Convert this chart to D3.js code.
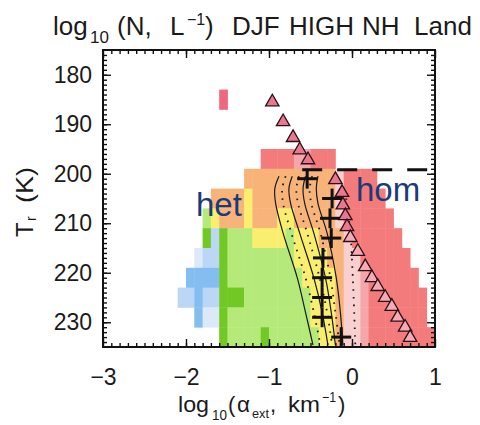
<!DOCTYPE html>
<html><head><meta charset="utf-8">
<script src="https://cdn.jsdelivr.net/npm/d3@7"></script>
<style>
body{margin:0;background:#fff;}
svg{display:block;}
text{font-family:"Liberation Sans",Arial,sans-serif;fill:#1a1a1a;}
</style></head><body>
<svg id="c" width="480" height="425"></svg>
<script>
// ---------- data ----------
const xDomain = [-3, 1];
const yDomain = [175, 235];
const xTicks = [-3, -2, -1, 0, 1];
const yTicks = [180, 190, 200, 210, 220, 230];

// heat-map bins: columns of 0.1 in log10(alpha) starting at -2.2, rows of 4 K
const binXStart = -2.2, binXStep = 0.1;
const rowT = [183, 187, 191, 195, 199, 203, 207, 211, 215, 219, 223, 227, 231];
const rowStep = 4;
// per row: [first column, last column, class]
const rowRuns = [
  [[6,6,"R"]],
  [],
  [],
  [[11,14,"r"],[15,16,"P"],[17,19,"r"]],
  [[9,19,"o"],[20,20,"p"],[21,24,"r"]],
  [[5,8,"o"],[9,9,"y"],[10,19,"o"],[20,20,"p"],[21,25,"r"]],
  [[4,4,"g"],[5,5,"y"],[6,8,"o"],[9,9,"y"],[10,12,"o"],[13,14,"y"],[15,19,"o"],[20,20,"p"],[21,26,"r"]],
  [[4,4,"G"],[5,5,"b"],[6,6,"G"],[7,9,"g"],[10,13,"y"],[14,14,"g"],[15,17,"y"],[18,20,"o"],[21,21,"p"],[22,27,"r"]],
  [[3,3,"w"],[4,5,"b"],[6,6,"G"],[7,14,"g"],[15,18,"y"],[19,20,"o"],[21,22,"p"],[23,28,"r"]],
  [[2,5,"B"],[6,6,"G"],[7,15,"g"],[16,19,"y"],[20,20,"o"],[21,22,"p"],[23,23,"P"],[24,29,"r"]],
  [[1,2,"b"],[3,3,"B"],[4,5,"b"],[6,8,"G"],[9,16,"g"],[17,19,"y"],[20,20,"o"],[21,22,"p"],[23,23,"P"],[24,30,"r"]],
  [[3,3,"B"],[4,5,"w"],[6,6,"G"],[7,16,"g"],[17,19,"y"],[20,20,"o"],[21,22,"p"],[23,23,"P"],[24,30,"r"]],
  [[6,6,"G"],[7,10,"g"],[11,11,"G"],[12,17,"g"],[18,19,"y"],[20,20,"o"],[21,22,"p"],[23,23,"P"],[24,31,"r"]]
];
const palette = {
  R: "#f0687e", r: "#f37b7b", P: "#f5a6aa", p: "#f9cfcf",
  o: "#f7b378", y: "#f9ee6e", g: "#b5ea7a", G: "#72c925",
  B: "#84bdf0", b: "#bcd7f5", w: "#dce9f8"
};

// contour lines: [T, log10 alpha]
const contourSolid = [
  [[200.5,-0.88],[203,-0.93],[206,-0.92],[212,-0.83],[221,-0.66],[228,-0.56],[234.6,-0.47]],
  [[200.5,-0.72],[203,-0.76],[206,-0.74],[212,-0.63],[221,-0.46],[228,-0.36],[234.6,-0.29]],
  [[200.5,-0.56],[203,-0.59],[206,-0.57],[212,-0.46],[221,-0.32],[228,-0.25],[234.6,-0.20]],
  [[200.5,-0.41],[203,-0.43],[206,-0.41],[212,-0.30],[221,-0.19],[228,-0.14],[234.6,-0.11]]
];
const contourDotted = [
  [[200.5,-0.80],[203,-0.84],[206,-0.83],[212,-0.73],[221,-0.56],[228,-0.46],[234.6,-0.38]],
  [[200.5,-0.64],[203,-0.67],[206,-0.65],[212,-0.54],[221,-0.39],[228,-0.30],[234.6,-0.24]],
  [[200.5,-0.48],[203,-0.51],[206,-0.49],[212,-0.38],[221,-0.26],[228,-0.20],[234.6,-0.15]],
  [[205,-0.07],[212,-0.02],[221,0.01],[234.6,0.04]]
];

// median markers (+)
const plusT = [201, 205, 209, 213, 217, 221, 225, 229, 233];
const plusX = [-0.54, -0.24, -0.265, -0.25, -0.35, -0.36, -0.36, -0.36, -0.13];

// homogeneous-nucleation triangles
const triUpT = [185.5, 189.5, 192.7, 195.2, 197.2];
const triUpX = [-0.96, -0.83, -0.71, -0.63, -0.53];
const triLoT = [201.2, 203.8, 206.3, 208.5, 210.7, 212.9, 215.7, 218.8, 221, 222.8, 225, 226.8, 229, 231, 233.1];
const triLoX = [-0.2, -0.12, -0.11, -0.08, -0.06, -0.02, 0.07, 0.16, 0.24, 0.31, 0.40, 0.48, 0.55, 0.64, 0.70];

// dashed reference line
const dashT = 199.2;
const dashX = [-0.6, 1];

// ---------- drawing ----------
const svg = d3.select("#c");
const L = 103, R = 435, T = 50, B = 347;
const x = d3.scaleLinear().domain(xDomain).range([L, R]);
const y = d3.scaleLinear().domain(yDomain).range([T, B]);

const cells = [];
rowRuns.forEach((runs, ri) => {
  runs.forEach(([c0, c1, ch]) => {
    for (let ci = c0; ci <= c1; ci++) cells.push({ri, ci, ch});
  });
});
svg.append("g").selectAll("rect").data(cells).join("rect")
  .attr("x", d => x(binXStart + d.ci * binXStep))
  .attr("width", d => x(binXStart + (d.ci + 1) * binXStep) - x(binXStart + d.ci * binXStep) + 0.4)
  .attr("y", d => y(rowT[d.ri]))
  .attr("height", d => y(rowT[d.ri] + rowStep) - y(rowT[d.ri]) + 0.4)
  .attr("fill", d => palette[d.ch]);

const line = d3.line().curve(d3.curveCatmullRom.alpha(0.5)).x(d => x(d[1])).y(d => y(d[0]));
svg.append("g").selectAll("path").data(contourSolid).join("path")
  .attr("d", line).attr("fill", "none").attr("stroke", "#1a1a1a").attr("stroke-width", 1.2);
svg.append("g").selectAll("path").data(contourDotted).join("path")
  .attr("d", line).attr("fill", "none").attr("stroke", "#1a1a1a").attr("stroke-width", 1.8)
  .attr("stroke-dasharray", "1.6,6").attr("stroke-linecap", "butt");

// dashed line
svg.append("line")
  .attr("x1", x(dashX[0])).attr("x2", x(dashX[1]))
  .attr("y1", y(dashT)).attr("y2", y(dashT))
  .attr("stroke", "#111").attr("stroke-width", 3).attr("stroke-dasharray", "20,15");

// triangles
const tri = d3.symbol().type(d3.symbolTriangle).size(78);
const triUp = triUpT.map((t, i) => ({t, v: triUpX[i]}));
const triLo = triLoT.map((t, i) => ({t, v: triLoX[i]}));
svg.append("g").selectAll("path").data(triLo).join("path")
  .attr("d", tri).attr("transform", d => `translate(${x(d.v)},${y(d.t)})`)
  .attr("fill", d => d.t < 212 ? "#ea7690" : "#f5aab6").attr("stroke", "#2a1016").attr("stroke-width", 1.3);

// plus markers
const plus = plusT.map((t, i) => ({t, v: plusX[i]}));
const pg = svg.append("g").attr("stroke", "#111").attr("stroke-width", 3);
pg.selectAll("line.h").data(plus).join("line").attr("class", "h")
  .attr("x1", d => x(d.v) - 10).attr("x2", d => x(d.v) + 10)
  .attr("y1", d => y(d.t)).attr("y2", d => y(d.t));
pg.selectAll("line.v").data(plus).join("line").attr("class", "v")
  .attr("x1", d => x(d.v)).attr("x2", d => x(d.v))
  .attr("y1", d => y(d.t - 2)).attr("y2", d => y(d.t + 2));

svg.append("g").selectAll("path").data(triUp).join("path")
  .attr("d", tri).attr("transform", d => `translate(${x(d.v)},${y(d.t)})`)
  .attr("fill", "#ea7690").attr("stroke", "#2a1016").attr("stroke-width", 1.3);

// axes
function styleAxis(g) {
  g.select(".domain").remove();
  g.selectAll(".tick line").attr("stroke", "#111").attr("stroke-width", 1.4);
  g.selectAll(".tick text").attr("font-family", '"Liberation Sans",Arial,sans-serif')
    .attr("font-size", 23).attr("fill", "#1a1a1a");
}
const yMinor = d3.range(176, 235, 1);
const xMinor = d3.range(-29, 10, 1).map(v => v / 10);
svg.append("g").attr("transform", `translate(${L},0)`)
  .call(d3.axisLeft(y).tickValues(yMinor).tickSize(-4).tickFormat("")).call(styleAxis);
svg.append("g").attr("transform", `translate(${L},0)`)
  .call(d3.axisLeft(y).tickValues(yTicks).tickSize(-8).tickPadding(11).tickFormat(d3.format("d"))).call(styleAxis);
svg.append("g").attr("transform", `translate(${R},0)`)
  .call(d3.axisRight(y).tickValues(yMinor).tickSize(-4).tickFormat("")).call(styleAxis);
svg.append("g").attr("transform", `translate(${R},0)`)
  .call(d3.axisRight(y).tickValues(yTicks).tickSize(-8).tickFormat("")).call(styleAxis);
svg.append("g").attr("transform", `translate(0,${B})`)
  .call(d3.axisBottom(x).tickValues(xMinor).tickSize(-4).tickFormat("")).call(styleAxis);
svg.append("g").attr("transform", `translate(0,${B})`)
  .call(d3.axisBottom(x).tickValues(xTicks).tickSize(-8).tickPadding(22).tickFormat(d3.format("d"))).call(styleAxis);
svg.append("g").attr("transform", `translate(0,${T})`)
  .call(d3.axisTop(x).tickValues(xMinor).tickSize(-4).tickFormat("")).call(styleAxis);
svg.append("g").attr("transform", `translate(0,${T})`)
  .call(d3.axisTop(x).tickValues(xTicks).tickSize(-8).tickFormat("")).call(styleAxis);

svg.append("rect").attr("x", L).attr("y", T).attr("width", R - L).attr("height", B - T)
  .attr("fill", "none").attr("stroke", "#111").attr("stroke-width", 2);

// text helper: string, x, baseline y, font size, optional width to stretch to
function txt(parent, s, px, py, size, w) {
  const t = parent.append("text").attr("x", px).attr("y", py).attr("font-size", size).text(s);
  if (w) t.attr("textLength", w).attr("lengthAdjust", "spacingAndGlyphs");
  return t;
}
// title
const tg = svg.append("g");
txt(tg, "log", 53, 35, 26);
txt(tg, "10", 90, 43, 17);
txt(tg, "(N,", 117, 35, 26);
txt(tg, "L", 170, 35, 26);
txt(tg, "\u22121", 187, 25, 16);
txt(tg, ")", 205, 35, 26);
txt(tg, "DJF", 232, 35, 26);
txt(tg, "HIGH", 289, 35, 26);
txt(tg, "NH", 362, 35, 26);
txt(tg, "Land", 414, 35, 26);

// x label
const xg = svg.append("g");
txt(xg, "log", 178, 412, 22, 31);
txt(xg, "10", 212, 420, 14, 15);
txt(xg, "(", 228, 412, 22);
txt(xg, "\u03b1", 237, 412, 22, 13);
txt(xg, "ext", 252, 418, 12, 17);
txt(xg, ",", 270, 412, 22);
txt(xg, "km", 288, 412, 22, 32);
txt(xg, "\u22121", 322, 402, 14, 14);
txt(xg, ")", 338, 412, 22);

// y label
const yg = svg.append("g").attr("transform", "translate(33,237) rotate(-90)");
txt(yg, "T", 0, 0, 24);
txt(yg, "r", 16, 3, 14);
txt(yg, "(K)", 34, 0, 24, 36);

// het / hom
svg.append("text").attr("x", 196).attr("y", 216).attr("font-size", 33)
  .attr("font-family", '"Noto Sans","Open Sans",sans-serif').style("fill", "#1b3a7a").text("het");
svg.append("text").attr("x", 356).attr("y", 201).attr("font-size", 33)
  .attr("font-family", '"Noto Sans","Open Sans",sans-serif').style("fill", "#1b3a7a").text("hom");
</script>
</body></html>
